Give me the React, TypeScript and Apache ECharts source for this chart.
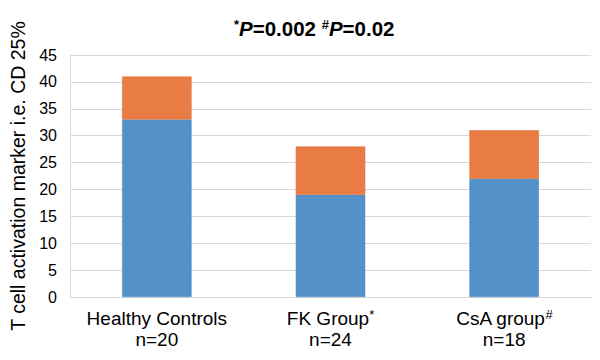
import React, { useEffect, useRef } from "react";
import * as echarts from "echarts";

const categories = ["Healthy Controls", "FK Group", "CsA group"];
const categoryMarks = ["", "*", "#"];
const sampleSizes = ["n=20", "n=24", "n=18"];
const baseValues = [33, 19, 22];
const topValues = [8, 9, 9];
const yTicks = { min: 0, max: 45, interval: 5 };

export default function App() {
  const ref = useRef<HTMLDivElement>(null);
  useEffect(() => {
    const chart = echarts.init(ref.current!, null, { renderer: "svg" });
    const font = "Arial, 'Liberation Sans', sans-serif";
    chart.setOption({
      animation: false,
      title: {
        text: "{sup|*}{i|P}{b|=0.002 }{sup|#}{i|P}{b|=0.02}",
        left: 229,
        top: 13,
        textStyle: {
          rich: {
            b: { fontSize: 20.5, fontWeight: "bold", fontFamily: font, color: "#000" },
            i: { fontSize: 20.5, fontWeight: "bold", fontStyle: "italic", fontFamily: font, color: "#000" },
            sup: { fontSize: 13, fontWeight: "bold", fontFamily: font, color: "#000", verticalAlign: "top", padding: [0, 0, 7, 0] },
          },
        },
      },
      grid: { left: 66, right: 9, top: 55, bottom: 63 },
      xAxis: {
        type: "category",
        data: categories,
        axisLine: { lineStyle: { color: "#d9d9d9" } },
        axisTick: { show: false },
        axisLabel: {
          margin: 11,
          lineHeight: 21,
          formatter: (v: string, idx: number) =>
            `{t|${v}}{s|${categoryMarks[idx]}}\n{t|${sampleSizes[idx]}}`,
          rich: {
            t: { fontSize: 19, fontFamily: font, color: "#000", lineHeight: 21 },
            s: { fontSize: 13, fontFamily: font, color: "#000", verticalAlign: "top", padding: [0, 0, 7, 0], lineHeight: 21 },
          },
        },
      },
      yAxis: {
        type: "value",
        min: yTicks.min,
        max: yTicks.max,
        interval: yTicks.interval,
        name: "T cell activation marker i.e. CD 25%",
        nameLocation: "middle",
        nameGap: 42,
        nameTextStyle: { fontSize: 19.5, fontFamily: font, color: "#000" },
        axisLine: { show: true, lineStyle: { color: "#d9d9d9" } },
        axisTick: { show: false },
        axisLabel: { fontSize: 16, fontFamily: font, color: "#000", margin: 13 },
        splitLine: { lineStyle: { color: "#d9d9d9", width: 1 } },
      },
      series: [
        {
          type: "bar",
          stack: "a",
          data: baseValues,
          barWidth: "40%",
          itemStyle: { color: "#5591c9", borderColor: "#4a86c0", borderWidth: 0.5 },
        },
        {
          type: "bar",
          stack: "a",
          data: topValues,
          barWidth: "40%",
          itemStyle: { color: "#e97c44", borderColor: "#d96f38", borderWidth: 0.5 },
        },
      ],
    });
    return () => chart.dispose();
  }, []);
  return <div ref={ref} style={{ width: 600, height: 360, position: "absolute", left: 0, top: 0 }} />;
}
